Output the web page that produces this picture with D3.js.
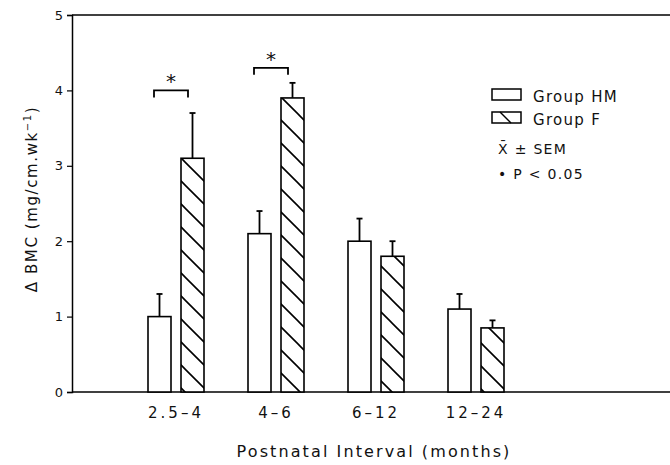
<!DOCTYPE html>
<html>
<head>
<meta charset="utf-8">
<script src="https://d3js.org/d3.v7.min.js"></script>
<style>
  body { margin: 0; background: #fff; }
  text { font-family: 'DejaVu Sans', sans-serif; fill: #111; }
  .tick text { font-size: 13px; }
</style>
</head>
<body>
<script>
// data
var intervals = ["2.5–4", "4–6", "6–12", "12–24"];
var groupHM = [1.0, 2.1, 2.0, 1.1];
var semHM   = [0.3, 0.3, 0.3, 0.2];
var groupF  = [3.1, 3.9, 1.8, 0.85];
var semF    = [0.6, 0.2, 0.2, 0.1];
var yTicks  = [0, 1, 2, 3, 4, 5];
// significance brackets: interval index and bracket level
var sigIndex = [0, 1];
var sigLevel = [4.0, 4.3];

var W = 670, H = 465;
var svg = d3.select("body").append("svg")
    .attr("width", W).attr("height", H);

var pLeft = 72, pRight = 670, pTop = 15, pBottom = 392;

var x = d3.scaleBand().domain(intervals).range([126, 526]);
var y = d3.scaleLinear().domain([0, 5]).range([pBottom, pTop]);

// hatch pattern
var defs = svg.append("defs");
var pat = defs.append("pattern")
    .attr("id", "hatch")
    .attr("patternUnits", "userSpaceOnUse")
    .attr("width", 23).attr("height", 23);
pat.append("rect").attr("width", 23).attr("height", 23).attr("fill", "#fff");
pat.append("path")
    .attr("d", "M-3,-3 L26,26 M-3,20 L3,26 M20,-3 L26,3")
    .attr("stroke", "#000").attr("stroke-width", 1.6);

// frame lines: top and bottom, left axis
svg.append("line").attr("x1", pLeft).attr("x2", pRight).attr("y1", pTop).attr("y2", pTop)
    .attr("stroke", "#000").attr("stroke-width", 1.5);
svg.append("line").attr("x1", pLeft).attr("x2", pRight).attr("y1", pBottom).attr("y2", pBottom)
    .attr("stroke", "#000").attr("stroke-width", 1.5);

var yAxis = svg.append("g")
    .attr("transform", "translate(" + pLeft + ",0)")
    .call(d3.axisLeft(y).tickValues(yTicks).tickSize(5).tickPadding(4).tickFormat(d3.format("d")));
yAxis.select(".domain").attr("stroke-width", 1.5);
yAxis.selectAll(".tick line").attr("stroke-width", 1.2);

var xAxis = svg.append("g")
    .attr("transform", "translate(0," + pBottom + ")")
    .call(d3.axisBottom(x).tickSize(0).tickPadding(15));
xAxis.select(".domain").remove();
xAxis.selectAll(".tick text").style("font-size", "15px").attr("letter-spacing", "3px");

var bw = 23;
function cx(i) { return x(intervals[i]) + x.bandwidth() / 2; }

var groups = [
  { vals: groupHM, sem: semHM, off: -28, fill: "#fff" },
  { vals: groupF,  sem: semF,  off: 5,   fill: "url(#hatch)" }
];

groups.forEach(function(g) {
  var data = g.vals.map(function(v, i) { return { v: v, s: g.sem[i], i: i }; });
  svg.append("g").selectAll("rect").data(data).enter().append("rect")
      .attr("x", function(d) { return cx(d.i) + g.off; })
      .attr("y", function(d) { return y(d.v); })
      .attr("width", bw)
      .attr("height", function(d) { return y(0) - y(d.v); })
      .attr("fill", g.fill)
      .attr("stroke", "#000").attr("stroke-width", 1.6);
  var eb = svg.append("g").attr("stroke", "#000").attr("stroke-width", 1.8);
  eb.selectAll("line.v").data(data).enter().append("line")
      .attr("x1", function(d) { return cx(d.i) + g.off + bw / 2; })
      .attr("x2", function(d) { return cx(d.i) + g.off + bw / 2; })
      .attr("y1", function(d) { return y(d.v); })
      .attr("y2", function(d) { return y(d.v + d.s); });
  eb.selectAll("line.c").data(data).enter().append("line")
      .attr("x1", function(d) { return cx(d.i) + g.off + bw / 2 - 3; })
      .attr("x2", function(d) { return cx(d.i) + g.off + bw / 2 + 3; })
      .attr("y1", function(d) { return y(d.v + d.s); })
      .attr("y2", function(d) { return y(d.v + d.s); });
});

// significance brackets
sigIndex.forEach(function(idx, k) {
  var x0 = cx(idx) - 22, x1 = cx(idx) + 12, yy = y(sigLevel[k]);
  svg.append("path")
      .attr("d", "M" + x0 + "," + (yy + 7) + "V" + yy + "H" + x1 + "V" + (yy + 7))
      .attr("fill", "none").attr("stroke", "#000").attr("stroke-width", 1.8);
  svg.append("text")
      .attr("x", (x0 + x1) / 2).attr("y", yy - 2)
      .attr("text-anchor", "middle")
      .style("font-size", "20px")
      .text("*");
});

// axis titles
svg.append("text")
    .attr("x", 374).attr("y", 457)
    .attr("text-anchor", "middle")
    .style("font-size", "16px")
    .attr("letter-spacing", "2.1px")
    .text("Postnatal Interval (months)");

var yt = svg.append("text")
    .attr("transform", "translate(37,199) rotate(-90)")
    .attr("text-anchor", "middle")
    .style("font-size", "15px")
    .attr("letter-spacing", "1.6px");
yt.append("tspan").text("Δ BMC (mg/cm.wk");
yt.append("tspan").attr("dy", -6).style("font-size", "10px").text("−1");
yt.append("tspan").attr("dy", 6).text(")");

// legend
var lg = svg.append("g");
lg.append("rect").attr("x", 492).attr("y", 89).attr("width", 29).attr("height", 11)
    .attr("fill", "#fff").attr("stroke", "#000").attr("stroke-width", 1.5);
lg.append("rect").attr("x", 492).attr("y", 112).attr("width", 29).attr("height", 11)
    .attr("fill", "#fff").attr("stroke", "#000").attr("stroke-width", 1.5);
lg.append("line").attr("x1", 500).attr("y1", 112).attr("x2", 511).attr("y2", 123)
    .attr("stroke", "#000").attr("stroke-width", 1.5);
var legendRows = [
  { x: 533, y: 102, t: "Group HM" },
  { x: 533, y: 125, t: "Group F" },
  { x: 498, y: 154, t: "X̄ ± SEM" },
  { x: 498, y: 179, t: "• P < 0.05" }
];
lg.selectAll("text.l").data(legendRows).enter().append("text")
    .attr("x", function(d) { return d.x; })
    .attr("y", function(d) { return d.y; })
    .style("font-size", function(d, i) { return i < 2 ? "15px" : "14px"; })
    .attr("letter-spacing", "1.3px")
    .text(function(d) { return d.t; });
</script>
</body>
</html>
